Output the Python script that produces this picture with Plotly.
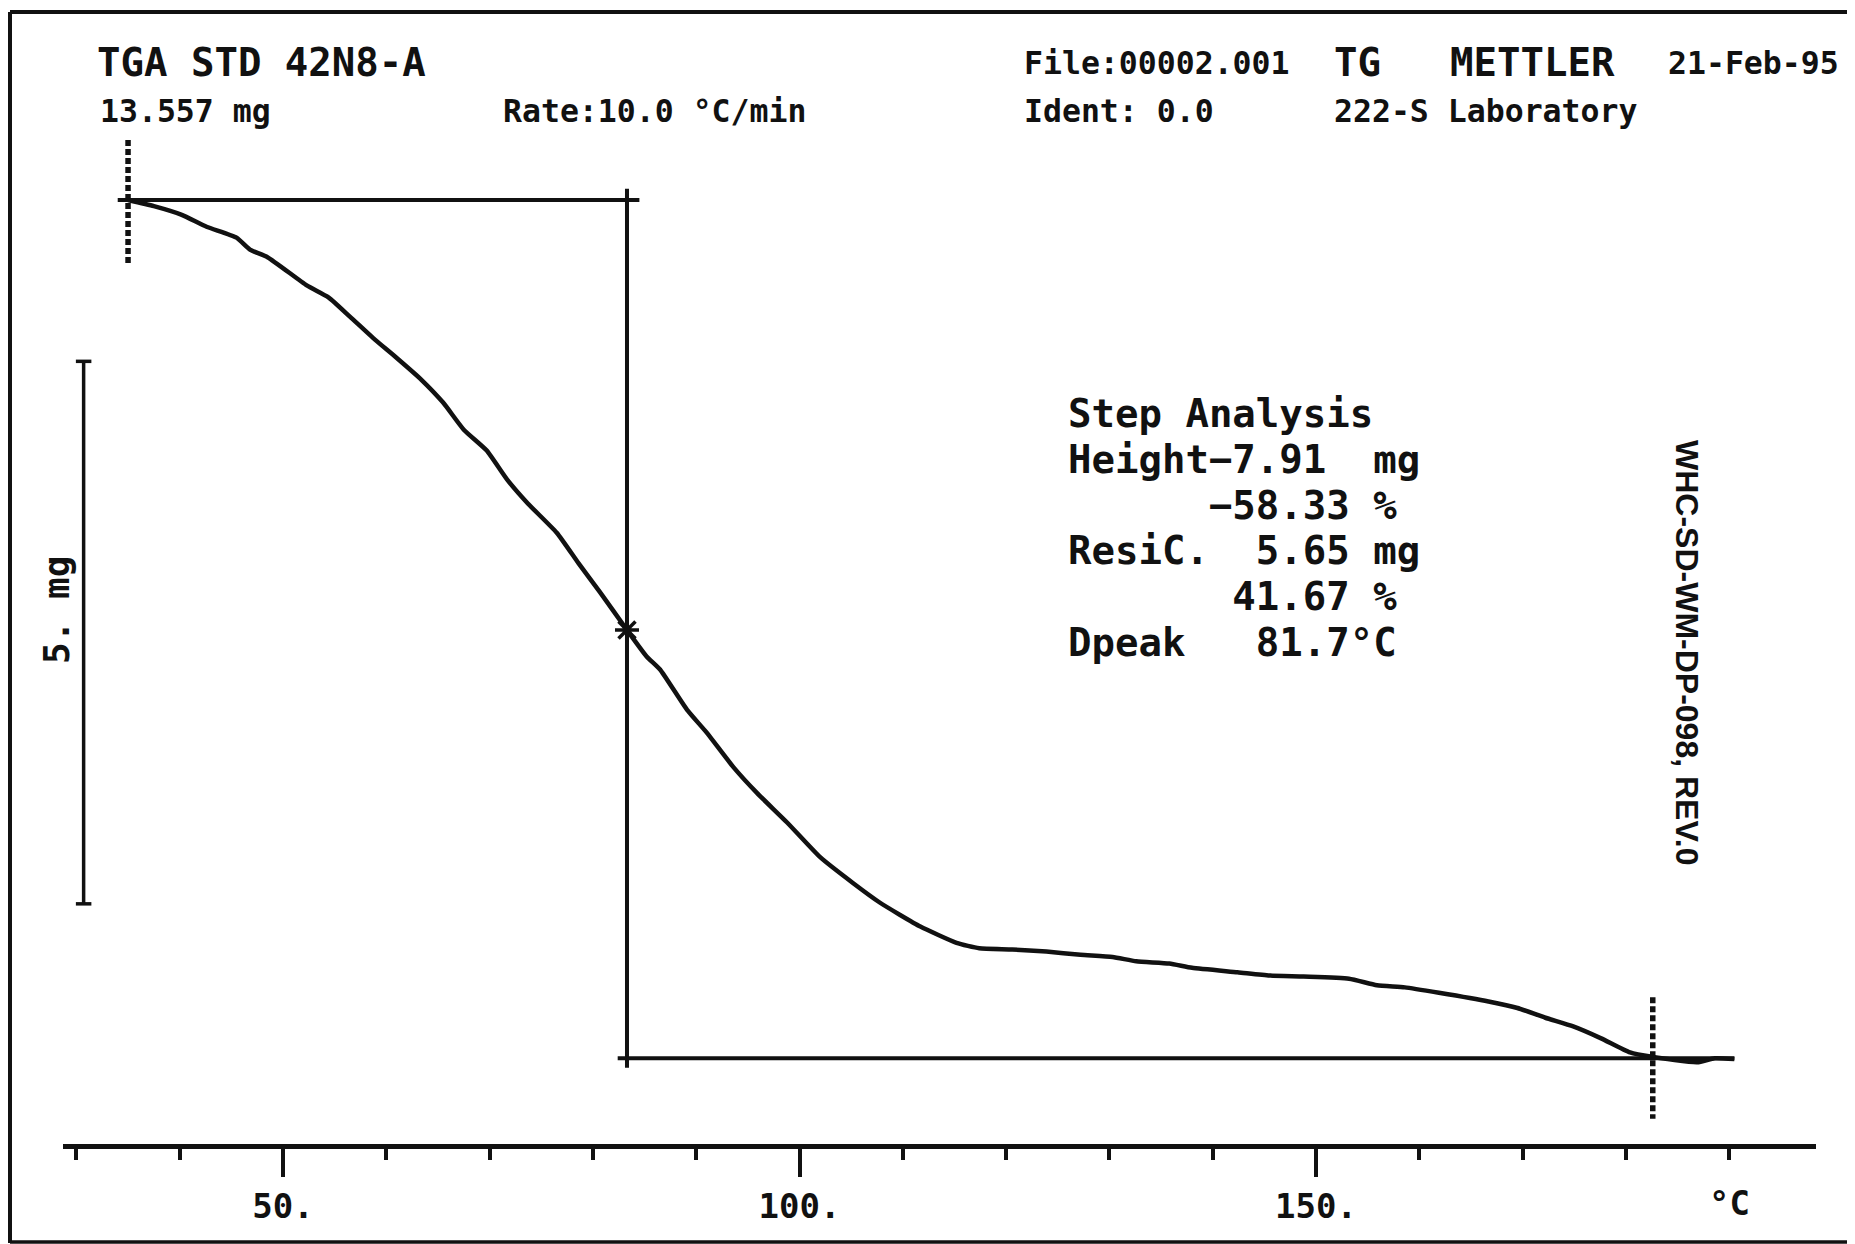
import plotly.graph_objects as go

# ---------------- data ----------------
temp_c = [35.0, 37.5, 40.2, 42.6, 45.5, 46.8, 48.5, 52.3, 54.4, 56.5, 58.9, 60.9,
          63.4, 65.5, 67.5, 69.7, 71.7, 73.7, 76.5, 78.6, 80.7, 83.3, 85.2, 86.5,
          89.1, 91.0, 93.6, 95.9, 98.8, 102.0, 105.2, 107.8, 109.7, 111.7,
          115.2, 117.4, 120.6, 123.9, 127.2, 130.3, 132.6, 135.8, 138.0, 142.4,
          145.5, 148.8, 153.2, 155.9, 158.6, 161.9, 166.7, 169.5, 172.2, 174.9,
          177.6, 180.4, 182.5, 186.9, 188.6, 190.5]
mass_mg = [13.557, 13.50, 13.42, 13.31, 13.21, 13.10, 13.03, 12.77, 12.66, 12.48,
           12.27, 12.11, 11.90, 11.69, 11.44, 11.25, 10.98, 10.76, 10.49, 10.21,
           9.94, 9.594, 9.35, 9.23, 8.86, 8.65, 8.33, 8.09, 7.82, 7.50, 7.26, 7.08,
           6.97, 6.86, 6.71, 6.66, 6.65, 6.63, 6.60, 6.58, 6.54, 6.52, 6.48,
           6.44, 6.41, 6.40, 6.38, 6.32, 6.30, 6.25, 6.17, 6.11, 6.02, 5.94, 5.83,
           5.70, 5.66, 5.61, 5.647, 5.64]

start_mass = 13.557
step_height = -7.91
residue_mass = start_mass + step_height
step_start_T = 35.0
step_end_T = 182.6
inflection_T = 83.3
inflection_mass = 9.594
scale_bar_mg = 5.0
scale_bar_top = 12.07
scale_bar_T = 30.7

major_ticks = [50, 100, 150]
major_labels = ["50.", "100.", "150."]
minor_ticks = [30, 40, 60, 70, 80, 90, 110, 120, 130, 140, 160, 170, 180, 190]

step_lines = ["Step Analysis",
              "Height\u22127.91  mg",
              "      \u221258.33 %",
              "ResiC.  5.65 mg",
              "       41.67 %",
              "Dpeak   81.7\u00b0C"]

# ---------------- layout geometry (reference pixel space) ----------------
OFF = 8                      # page body margin of the html page
W, H = 1855 - OFF, 1244 - OFF
PX_PER_C = 10.33
X50 = 283.0
PX_PER_MG = 108.5
Y_START = 200.0
AXIS_L, AXIS_R, AXIS_Y = 63.0, 1816.0, 1144.0

def t_at(p):
    return 50 + (p - X50) / PX_PER_C

def m_at(p):
    return start_mass - (p - Y_START) / PX_PER_MG

def px(x):
    return (x - OFF) / W

def py(y):
    return 1 - (y - OFF) / H

MONO = "DejaVu Sans Mono"
BLACK = "#111111"

fig = go.Figure()

# TGA curve
fig.add_trace(go.Scatter(x=temp_c, y=mass_mg, mode="lines",
                         line=dict(color=BLACK, width=4.5, shape="spline", smoothing=0.5),
                         hoverinfo="skip"))

def seg(xs, ys, width=4, dash=None):
    fig.add_trace(go.Scatter(x=xs, y=ys, mode="lines",
                             line=dict(color=BLACK, width=width, dash=dash),
                             hoverinfo="skip"))

# step-analysis construction
seg([34.0, 84.5], [start_mass, start_mass])
seg([inflection_T, inflection_T], [13.66, 5.56])
seg([82.4, temp_c[-1]], [residue_mass, residue_mass])
seg([step_start_T, step_start_T], [14.11, 12.95], width=5.5, dash="6px,3px")
seg([step_end_T, step_end_T], [6.21, 5.09], width=5.5, dash="6px,3px")

# inflection marker
fig.add_trace(go.Scatter(x=[inflection_T], y=[inflection_mass], mode="markers",
                         marker=dict(symbol="asterisk", size=20, color=BLACK,
                                     line=dict(color=BLACK, width=3.5)),
                         hoverinfo="skip"))

# 5 mg scale bar
bar_bottom = scale_bar_top - scale_bar_mg
seg([scale_bar_T, scale_bar_T], [scale_bar_top, bar_bottom], width=3.5)
seg([scale_bar_T - 0.75, scale_bar_T + 0.75], [scale_bar_top, scale_bar_top], width=3.5)
seg([scale_bar_T - 0.75, scale_bar_T + 0.75], [bar_bottom, bar_bottom], width=3.5)

annotations = []

def text(x, y, s, size, xanchor="left", angle=0, family=MONO, weight="bold"):
    annotations.append(dict(x=px(x), y=py(y), xref="paper", yref="paper",
                            text=s.replace(" ", "\u00a0"), showarrow=False,
                            xanchor=xanchor, yanchor="middle", textangle=angle,
                            font=dict(family=family, size=size, color=BLACK,
                                      weight=weight)))

BIG, SMALL = 39, 31.5
text(95, 63, "TGA STD 42N8-A", BIG)
text(98, 111, "13.557 mg", SMALL)
text(501, 111, "Rate:10.0 \u00b0C/min", SMALL)
text(1022, 63, "File:00002.001", SMALL)
text(1022, 111, "Ident: 0.0", SMALL)
text(1332, 63, "TG", BIG)
text(1448, 63, "METTLER", BIG)
text(1666, 63, "21-Feb-95", SMALL)
text(1332, 111, "222-S Laboratory", SMALL)

for i, line in enumerate(step_lines):
    text(1066, 414 + i * 45.6, line, 39, weight="bold")

text(57, 610, "5. mg", 36, xanchor="center", angle=-90)
text(1687, 653, "WHC-SD-WM-DP-098, REV.0", 32, xanchor="center", angle=90,
     family="Liberation Sans", weight="bold")

annotations.append(dict(x=190, y=py(1203), xref="x", yref="paper", text="\u00b0C",
                        showarrow=False, xanchor="center", yanchor="middle",
                        font=dict(family=MONO, size=34, color=BLACK, weight="bold")))

shapes = [
    dict(type="line", xref="paper", yref="paper", x0=px(10), x1=px(10), y0=py(12), y1=py(1243),
         line=dict(color=BLACK, width=4)),
    dict(type="line", xref="paper", yref="paper", x0=px(10), x1=1, y0=py(12), y1=py(12),
         line=dict(color=BLACK, width=4)),
    dict(type="line", xref="paper", yref="paper", x0=px(10), x1=1, y0=py(1242), y1=py(1242),
         line=dict(color=BLACK, width=3.5)),
]

fig.update_layout(
    width=W, height=H, margin=dict(l=0, r=0, t=0, b=0),
    paper_bgcolor="white", plot_bgcolor="white", showlegend=False,
    annotations=annotations, shapes=shapes,
    xaxis=dict(domain=[px(AXIS_L), px(AXIS_R)], range=[t_at(AXIS_L), t_at(AXIS_R)],
               showgrid=False, zeroline=False, showline=True, linewidth=5,
               linecolor=BLACK, ticks="outside", ticklen=28, tickwidth=3.5,
               tickcolor=BLACK, tickvals=major_ticks, ticktext=major_labels,
               tickfont=dict(family=MONO, size=34, color=BLACK, weight="bold"),
               minor=dict(tickvals=minor_ticks, ticks="outside", ticklen=11,
                          tickwidth=3.5, tickcolor=BLACK, showgrid=False),
               fixedrange=True),
    yaxis=dict(domain=[py(AXIS_Y), 1], range=[m_at(AXIS_Y), m_at(OFF)],
               visible=False, fixedrange=True),
)

fig.write_html("out.html", config={"displayModeBar": False})
